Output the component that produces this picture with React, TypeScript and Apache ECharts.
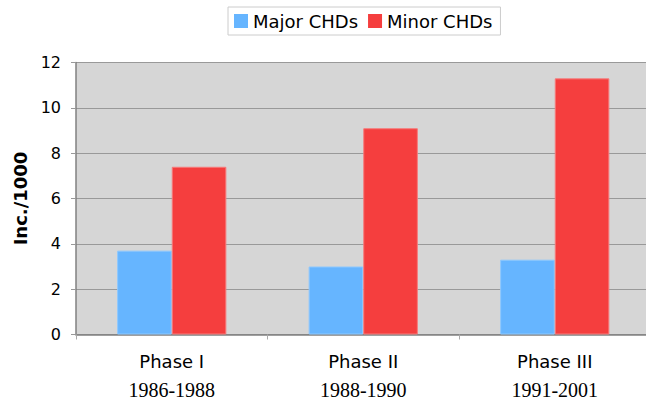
import React, { useEffect, useRef } from "react";
import * as echarts from "echarts";

const phases = ["Phase I", "Phase II", "Phase III"];
const periods = ["1986-1988", "1988-1990", "1991-2001"];
const seriesNames = ["Major CHDs", "Minor CHDs"];
const majorValues = [3.7, 3.0, 3.3];
const minorValues = [7.4, 9.1, 11.3];
const yTicks = { min: 0, max: 12, interval: 2 };
const yAxisTitle = "Inc./1000";

export default function App() {
  const ref = useRef<HTMLDivElement>(null);
  useEffect(() => {
    if (!ref.current) return;
    const chart = echarts.init(ref.current, null, { renderer: "svg" });
    const font = "DejaVu Sans, Verdana, sans-serif";
    chart.setOption({
      animation: false,
      legend: {
        left: 228,
        top: 7,
        backgroundColor: "#ffffff",
        borderColor: "#cccccc",
        borderWidth: 1,
        padding: [5, 8, 5, 6],
        itemWidth: 14,
        itemHeight: 14,
        itemGap: 10,
        icon: "rect",
        itemStyle: { borderWidth: 0 },
        textStyle: { fontFamily: font, fontSize: 18, color: "#000" },
        data: seriesNames,
      },
      grid: {
        left: 76,
        top: 62.5,
        height: 272,
        width: 574.5,
        show: true,
        backgroundColor: "#d6d6d6",
        borderWidth: 0,
      },
      xAxis: {
        type: "category",
        data: phases.map((p, i) => `{a|${p}}\n{b|${periods[i]}}`),
        axisLine: { show: true, lineStyle: { color: "#808080", width: 1.5 } },
        axisTick: { show: true, length: 5, lineStyle: { color: "#aaaaaa" } },
        axisLabel: {
          interval: 0,
          margin: 14,
          color: "#000",
          rich: {
            a: { fontFamily: font, fontSize: 18, lineHeight: 26, color: "#000" },
            b: {
              fontFamily: "Liberation Serif, Times New Roman, serif",
              fontSize: 20,
              lineHeight: 30,
              color: "#000",
            },
          },
        },
      },
      yAxis: {
        type: "value",
        min: yTicks.min,
        max: yTicks.max,
        interval: yTicks.interval,
        name: yAxisTitle,
        nameLocation: "middle",
        nameRotate: 90,
        nameGap: 42,
        nameTextStyle: {
          fontFamily: font,
          fontSize: 18,
          fontWeight: "bold",
          color: "#000",
        },
        axisLine: { show: true, lineStyle: { color: "#808080", width: 1.5 } },
        axisTick: { show: true, length: 5, lineStyle: { color: "#999999" } },
        axisLabel: { fontFamily: font, fontSize: 16, color: "#000", margin: 15 },
        splitLine: { show: true, lineStyle: { color: "#999999", width: 1 } },
      },
      series: [
        {
          name: seriesNames[0],
          type: "bar",
          data: majorValues,
          barWidth: 54.6,
          barGap: "0%",
          itemStyle: { color: "#66b5ff", borderColor: "#8cc8ff", borderWidth: 1 },
        },
        {
          name: seriesNames[1],
          type: "bar",
          data: minorValues,
          barWidth: 54.6,
          barGap: "0%",
          itemStyle: { color: "#f53e3e", borderColor: "#f77a7a", borderWidth: 1 },
        },
      ],
    });
    return () => chart.dispose();
  }, []);
  return (
    <div
      style={{
        position: "absolute",
        left: 0,
        top: 0,
        width: 646,
        height: 401,
        overflow: "hidden",
      }}
    >
      <div ref={ref} style={{ width: 660, height: 401 }} />
    </div>
  );
}
